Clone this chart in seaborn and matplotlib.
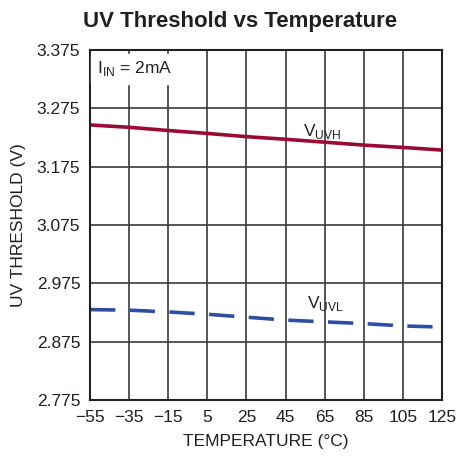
import matplotlib
matplotlib.use("Agg")
import matplotlib.pyplot as plt
import seaborn as sns
import numpy as np
import pandas as pd

# Values
temperature = [-55, -35, -15, 5, 25, 45, 65, 85, 105, 125]
v_uvh = [3.2465, 3.2425, 3.237, 3.232, 3.2265, 3.222, 3.217, 3.212, 3.208, 3.2035]
v_uvl = [2.930, 2.929, 2.926, 2.922, 2.917, 2.912, 2.909, 2.906, 2.902, 2.900]

x_ticks = list(range(-55, 126, 20))
y_ticks = [2.775, 2.875, 2.975, 3.075, 3.175, 3.275, 3.375]

sns.set_style("white")
plt.rcParams["font.family"] = ["Liberation Sans", "DejaVu Sans"]
plt.rcParams["mathtext.fontset"] = "custom"
plt.rcParams["mathtext.rm"] = "Liberation Sans"

df = pd.DataFrame({"temp": temperature, "uvh": v_uvh, "uvl": v_uvl})

fig = plt.figure(figsize=(4.57, 4.58), dpi=100)
ax = fig.add_axes([0.197, 0.1266, 0.770, 0.7642])

sns.lineplot(data=df, x="temp", y="uvh", ax=ax, color="#9b0a33", linewidth=2.6)
sns.lineplot(data=df, x="temp", y="uvl", ax=ax, color="#2e4ea3", linewidth=2.6)
ax.lines[-1].set_dashes([7, 4])

ax.set_xlim(-55, 125)
ax.set_ylim(2.775, 3.375)
ax.set_xticks(x_ticks)
ax.set_yticks(y_ticks)
ax.set_xticklabels([str(t).replace("-", "\u2212") for t in x_ticks])
ax.set_yticklabels([f"{v:.3f}" for v in y_ticks])
ax.tick_params(axis="both", length=0, labelsize=12.5, pad=7, colors="#231f20")
ax.grid(True, color="#3a3a3a", linewidth=1.2)
for s in ax.spines.values():
    s.set_color("#231f20")
    s.set_linewidth(1.5)

ax.set_xlabel("TEMPERATURE (°C)", fontsize=12.5, color="#231f20", labelpad=7)
ax.set_ylabel("UV THRESHOLD (V)", fontsize=12.5, color="#231f20", labelpad=8)

ax.text(-51.5, 3.343, r"I$_\mathregular{IN}$ = 2mA", fontsize=12.5, color="#231f20",
        va="center", ha="left", backgroundcolor="white")
ax.text(54, 3.236, r"V$_\mathregular{UVH}$", fontsize=12.5, color="#231f20",
        va="center", ha="left")
ax.text(56, 2.940, r"V$_\mathregular{UVL}$", fontsize=12.5, color="#231f20",
        va="center", ha="left")

fig.suptitle("UV Threshold vs Temperature", x=0.526, y=0.975, fontsize=16,
             fontweight="bold", color="#231f20")

fig.savefig("out.png", dpi=100)
